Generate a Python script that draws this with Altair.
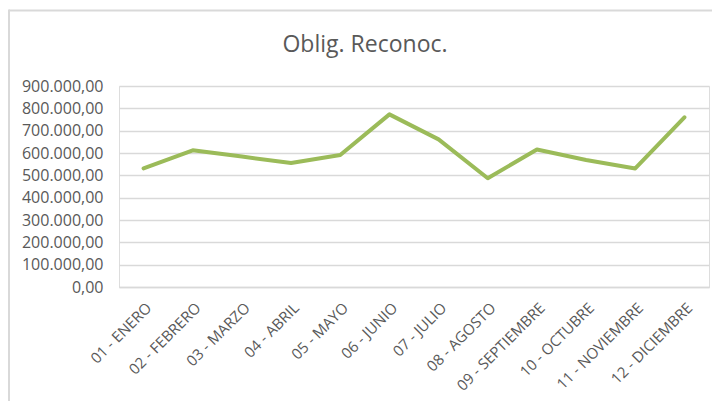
import altair as alt
import pandas as pd

months = ["01 - ENERO", "02 - FEBRERO", "03 - MARZO", "04 - ABRIL", "05 - MAYO",
          "06 - JUNIO", "07 - JULIO", "08 - AGOSTO", "09 - SEPTIEMBRE",
          "10 - OCTUBRE", "11 - NOVIEMBRE", "12 - DICIEMBRE"]
values = [531000, 612000, 584000, 555000, 591000, 773000,
          661000, 487000, 616000, 569000, 531000, 760000]
y_ticks = [0, 100000, 200000, 300000, 400000, 500000, 600000, 700000, 800000, 900000]
title_text = ["Oblig. Reconoc."]

df = pd.DataFrame({"mes": months, "valor": values})
df_title = pd.DataFrame({"t": title_text})

FONT = "Open Sans"
TXT = "#595959"
GRID = "#d9d9d9"

label_expr = ("replace(replace(replace(format(datum.value, ',.2f'), ',', '#'), '.', ','), '#', '.')")

line = alt.Chart(df).mark_line(color="#9bbb59", strokeWidth=4, strokeCap="round", strokeJoin="round").encode(
    x=alt.X("mes:N", sort=months, title=None,
            scale=alt.Scale(paddingInner=0, paddingOuter=0.5),
            axis=alt.Axis(labelAngle=-45, labelAlign="right", labelBaseline="top",
                          labelPadding=13, ticks=False, domain=True, domainColor=GRID,
                          domainWidth=1.5, labelFontSize=15, labelColor=TXT, labelFont=FONT,
                          grid=False)),
    y=alt.Y("valor:Q", title=None,
            scale=alt.Scale(domain=[0, 900000], nice=False),
            axis=alt.Axis(values=y_ticks, labelExpr=label_expr, ticks=False, domain=False,
                          gridColor=GRID, gridWidth=1.5, labelPadding=16,
                          labelFontSize=16, labelColor=TXT, labelFont=FONT)),
)

border_top = alt.Chart(df_title).mark_rule(color=GRID, strokeWidth=2).encode(
    x=alt.value(-110), x2=alt.value(600), y=alt.value(-75.5)
)
border_left = alt.Chart(df_title).mark_rule(color=GRID, strokeWidth=2).encode(
    x=alt.value(-110), y=alt.value(-76.5), y2=alt.value(330)
)

title = alt.Chart(df_title).mark_text(fontSize=23, font=FONT, color=TXT, align="center",
                                      baseline="middle").encode(
    text="t:N", x=alt.value(246), y=alt.value(-41)
)

chart = alt.layer(border_top, border_left, line, title).properties(
    width=590, height=201,
    autosize=alt.AutoSizeParams(type="none"),
    padding={"left": 111, "top": 78, "right": 3, "bottom": 114},
).configure_view(stroke=None).configure(background="white")

chart.save("out.html", embed_options={"renderer": "svg", "actions": False})
